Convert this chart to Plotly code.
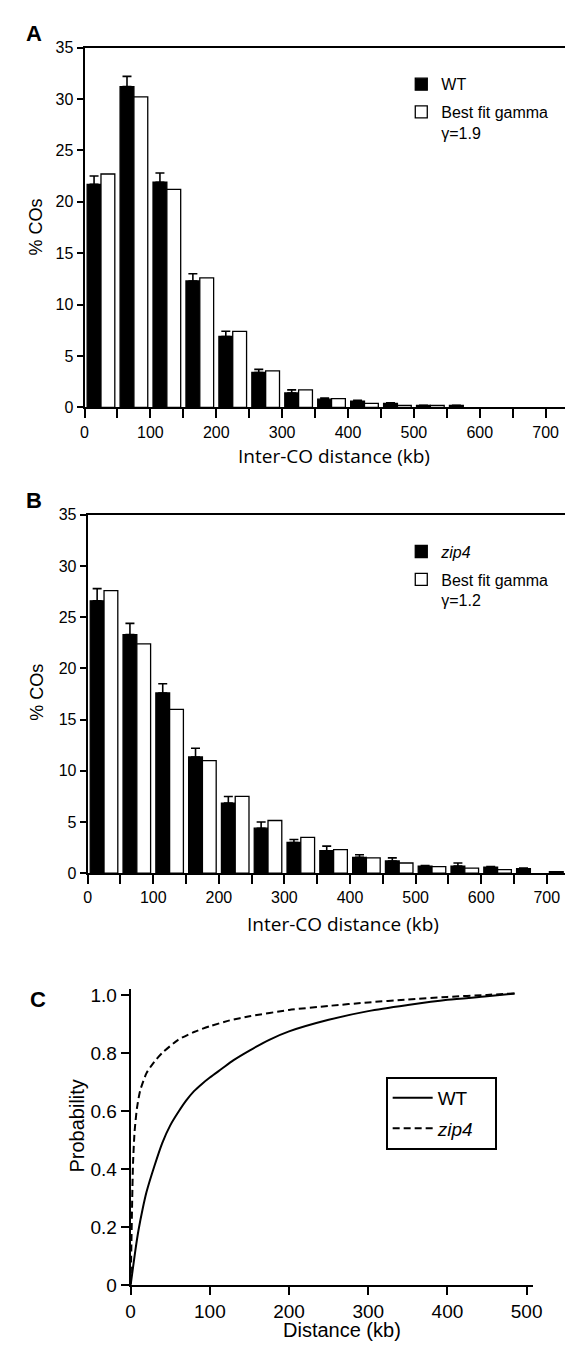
import plotly.graph_objects as go

W, H = 573, 1347

# ---------------- data ----------------
bin_mid_kb = [25, 75, 125, 175, 225, 275, 325, 375, 425, 475, 525, 575, 625, 675, 725]
x_tick_vals = [0, 50, 100, 150, 200, 250, 300, 350, 400, 450, 500, 550, 600, 650, 700]
x_tick_text = ["0", "", "100", "", "200", "", "300", "", "400", "", "500", "", "600", "", "700"]
y_tick_vals = [0, 5, 10, 15, 20, 25, 30, 35]

wt_pct = [21.7, 31.2, 21.9, 12.3, 6.9, 3.4, 1.4, 0.8, 0.6, 0.4, 0.2, 0.2, None, None, None]
wt_err = [0.8, 1.0, 0.9, 0.7, 0.5, 0.3, 0.3, 0.1, 0.1, 0.05, 0, 0, 0, 0, 0]
wt_gamma_pct = [22.7, 30.2, 21.2, 12.6, 7.4, 3.55, 1.7, 0.85, 0.4, 0.2, 0.2, None, None, None, None]

zip4_pct = [26.6, 23.3, 17.6, 11.35, 6.85, 4.4, 3.0, 2.2, 1.55, 1.2, 0.7, 0.7, 0.6, 0.45, 0.15]
zip4_err = [1.2, 1.1, 0.9, 0.85, 0.65, 0.6, 0.3, 0.45, 0.25, 0.3, 0.05, 0.3, 0.05, 0.05, 0]
zip4_gamma_pct = [27.6, 22.4, 16.0, 11.0, 7.5, 5.15, 3.5, 2.3, 1.5, 1.0, 0.65, 0.5, 0.35, None, None]

cdf_wt_kb = [0, 3, 6, 10, 15, 20, 30, 40, 50, 60, 70, 80, 90, 100, 115, 130, 150, 175, 200,
             250, 300, 350, 400, 450, 485]
cdf_wt_p = [0, 0.06, 0.12, 0.19, 0.26, 0.32, 0.41, 0.49, 0.55, 0.595, 0.635, 0.668, 0.693, 0.715,
            0.745, 0.775, 0.808, 0.845, 0.874, 0.914, 0.944, 0.965, 0.983, 0.995, 1.005]
cdf_zip4_kb = [0, 1, 2, 3, 5, 8, 12, 20, 30, 40, 60, 80, 100, 125, 150, 200, 250, 300, 350, 400, 450, 485]
cdf_zip4_p = [0, 0.15, 0.30, 0.42, 0.53, 0.61, 0.67, 0.73, 0.77, 0.80, 0.845, 0.872, 0.892, 0.912,
              0.926, 0.948, 0.962, 0.974, 0.984, 0.993, 1.0, 1.005]
c_x_ticks = [0, 100, 200, 300, 400, 500]
c_y_ticks = [0, 0.2, 0.4, 0.6, 0.8, 1.0]
c_y_text = ["0", "0.2", "0.4", "0.6", "0.8", "1.0"]

# ---------------- helpers ----------------
def px(x):
    return x / W

def py(y):
    return 1 - y / H

ARIAL = "Liberation Sans, Arial, sans-serif"
HUMAN = "Open Sans, Noto Sans, sans-serif"

fig = go.Figure()

bar_line = dict(color="black", width=1.3)
err_style = dict(type="data", symmetric=False, color="black", thickness=1.6, width=4.5)

# Panel A
fig.add_trace(go.Bar(x=bin_mid_kb, y=wt_pct, name="WT", marker=dict(color="black", line=bar_line),
                     error_y=dict(array=wt_err, arrayminus=[0] * len(wt_err), **err_style),
                     xaxis="x", yaxis="y", legend="legend", legendgroup="a1"))
fig.add_trace(go.Bar(x=bin_mid_kb, y=wt_gamma_pct, name="Best fit gamma<br>γ=1.9",
                     marker=dict(color="white", line=bar_line),
                     xaxis="x", yaxis="y", legend="legend", legendgroup="a2"))
# Panel B
fig.add_trace(go.Bar(x=bin_mid_kb, y=zip4_pct, name="<i>zip4</i>", marker=dict(color="black", line=bar_line),
                     error_y=dict(array=zip4_err, arrayminus=[0] * len(zip4_err), **err_style),
                     xaxis="x2", yaxis="y2", legend="legend2", legendgroup="b1"))
fig.add_trace(go.Bar(x=bin_mid_kb, y=zip4_gamma_pct, name="Best fit gamma<br>γ=1.2",
                     marker=dict(color="white", line=bar_line),
                     xaxis="x2", yaxis="y2", legend="legend2", legendgroup="b2"))
# Panel C
fig.add_trace(go.Scatter(x=cdf_wt_kb, y=cdf_wt_p, mode="lines", name="WT",
                         line=dict(color="black", width=2, shape="spline", smoothing=0.8),
                         xaxis="x3", yaxis="y3", legend="legend3", legendgroup="c1"))
fig.add_trace(go.Scatter(x=cdf_zip4_kb, y=cdf_zip4_p, mode="lines", name="<i>zip4</i>&nbsp;&nbsp;&nbsp;",
                         line=dict(color="black", width=2, dash="7px,4px", shape="spline", smoothing=0.6),
                         xaxis="x3", yaxis="y3", legend="legend3", legendgroup="c2"))

axis_common = dict(showline=True, linecolor="black", linewidth=2, ticks="outside",
                   tickcolor="black", tickwidth=2, showgrid=False, zeroline=False,
                   tickfont=dict(family=ARIAL, size=16, color="black"))

legend_common = dict(xanchor="left", yanchor="top", bgcolor="rgba(0,0,0,0)",
                     font=dict(family=ARIAL, size=16, color="black"),
                     traceorder="grouped", tracegroupgap=4, valign="top", itemwidth=30)

c_font = dict(family=ARIAL, size=19, color="black")

fig.update_layout(
    width=W, height=H, margin=dict(l=0, r=0, t=0, b=0),
    paper_bgcolor="white", plot_bgcolor="white",
    barmode="group", bargap=0.16, bargroupgap=0,
    showlegend=True,
    xaxis=dict(domain=[px(73.3), 1.0], range=[0, 740], tickvals=x_tick_vals, ticktext=x_tick_text,
               ticklen=9, mirror=True, anchor="y", **axis_common),
    yaxis=dict(domain=[py(397), py(32)], range=[0, 35], tickvals=y_tick_vals, ticklen=6,
               anchor="x", **axis_common),
    xaxis2=dict(domain=[px(76.5), px(568)], range=[0, 731], tickvals=x_tick_vals, ticktext=x_tick_text,
                ticklen=9, mirror=True, anchor="y2", **axis_common),
    yaxis2=dict(domain=[py(869.5), py(506)], range=[0, 35], tickvals=y_tick_vals, ticklen=6,
                anchor="x2", **axis_common),
    xaxis3=dict(domain=[px(120.6), px(533)], range=[0, 508], tickvals=c_x_ticks, ticklen=8,
                anchor="y3", **{**axis_common, "tickfont": c_font}),
    yaxis3=dict(domain=[py(1287), py(987)], range=[0, 1.02], tickvals=c_y_ticks, ticktext=c_y_text,
                ticklen=8, anchor="x3", **{**axis_common, "tickfont": c_font}),
    legend=dict(x=px(398), y=py(52), **legend_common),
    legend2=dict(x=px(398), y=py(526), **legend_common),
    legend3=dict(x=px(382), y=py(1076), xanchor="left", yanchor="top", bgcolor="white",
                 bordercolor="black", borderwidth=2,
                 font=dict(family=ARIAL, size=19, color="black"),
                 traceorder="grouped", tracegroupgap=3, itemwidth=40),
)

ann = []
def add_text(x, y, text, size, family=ARIAL, angle=0, bold=False):
    t = f"<b>{text}</b>" if bold else text
    ann.append(dict(x=px(x), y=py(y), xref="paper", yref="paper", text=t, showarrow=False,
                    xanchor="center", yanchor="middle", textangle=angle,
                    font=dict(family=family, size=size, color="black")))

add_text(22, 18, "A", 22, bold=True)
add_text(22, 491, "B", 22, bold=True)
add_text(26, 998, "C", 22, bold=True)
add_text(329, 446, "Inter-CO distance (kb)", 19, family=HUMAN)
add_text(338, 921, "Inter-CO distance (kb)", 19, family=HUMAN)
add_text(24, 214, "% COs", 18, angle=-90)
add_text(25, 686, "% COs", 18, angle=-90)
add_text(66, 1126, "Probability", 20, angle=-90)
add_text(337, 1333, "Distance (kb)", 20)
fig.update_layout(annotations=ann)

fig.write_html("out.html")
